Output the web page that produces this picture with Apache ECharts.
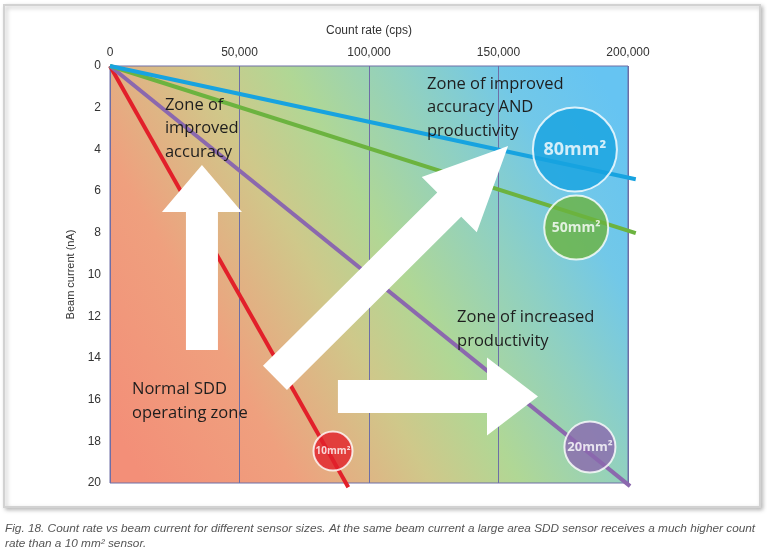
<!DOCTYPE html>
<html>
<head>
<meta charset="utf-8">
<script src="https://cdn.jsdelivr.net/npm/echarts@6/dist/echarts.min.js"></script>
<style>
html,body{margin:0;padding:0;background:#fff;}
#c{width:767px;height:551px;}
</style>
</head>
<body>
<div id="c"></div>
<script>
// ---- data ----
const xTicks = [0, 50000, 100000, 150000, 200000];
const yTicks = [0, 2, 4, 6, 8, 10, 12, 14, 16, 18, 20];
const sensorNames = ['10mm²', '20mm²', '50mm²', '80mm²'];
// sensor lines [startX, startY, endX, endY] in [count rate, beam current]
const line10 = [0, 0, 92000, 20.2];
const line20 = [0, 0, 200800, 20.15];
const line50 = [0, 0, 203000, 8.02];
const line80 = [0, 0, 203000, 5.43];
// badge (circle) centres [count rate, beam current]
const badge10 = [86100, 18.47];
const badge20 = [185300, 18.27];
const badge50 = [180000, 7.75];
const badge80 = [179500, 4.0];
// arrows [tailX, tailY, tipX, tipY]
const arrowUp = [35500, 13.62, 35500, 4.75];
const arrowDiag = [63700, 14.96, 153700, 3.84];
const arrowRight = [88000, 15.85, 165250, 15.85];
// zone texts and their anchor (top-left) [count rate, beam current]
const zoneTexts = [
  'Zone of\nimproved\naccuracy',
  'Zone of improved\naccuracy AND\nproductivity',
  'Zone of increased\nproductivity',
  'Normal SDD\noperating zone'
];
const zoneAnchors = [[21200, 1.3], [122400, 0.3], [134000, 11.5], [8500, 14.95]];

// ---- styles ----
const colors = {red: '#e2202a', purple: '#8b68ae', green: '#6cb33f', blue: '#17a3e0'};
const lineColors = [colors.red, colors.purple, colors.green, colors.blue];
const badgeSizes = [39, 51, 64, 84];
const badgeFonts = [10, 13, 14, 18];
const arrowGeom = [
  {sw: 16, hw: 40, hl: 47},
  {sw: 17, hw: 39, hl: 83},
  {sw: 16.5, hw: 39, hl: 51}
];

const chart = echarts.init(document.getElementById('c'));

const badges = [badge10, badge20, badge50, badge80];

const bg = new echarts.graphic.LinearGradient(0, 0.85, 1, 0.15, [
  {offset: 0, color: '#f38f78'},
  {offset: 0.22, color: '#efa07e'},
  {offset: 0.42, color: '#cfc88a'},
  {offset: 0.55, color: '#b0d795'},
  {offset: 0.72, color: '#8fd0c2'},
  {offset: 0.86, color: '#72c8e8'},
  {offset: 1, color: '#66c4f2'}
]);

const option = {
  animation: false,
  grid: {left: 110, top: 66, right: 139, bottom: 68, show: true,
    backgroundColor: bg, borderColor: '#6e6ea6', borderWidth: 1},
  xAxis: {
    type: 'value', position: 'top', min: 0, max: 200000, interval: 50000,
    name: 'Count rate (cps)', nameLocation: 'middle', nameGap: 29,
    nameTextStyle: {color: '#333', fontSize: 12, fontFamily: 'Liberation Sans'},
    axisLine: {show: false}, axisTick: {show: false},
    axisLabel: {color: '#333', fontSize: 12, margin: 7, fontFamily: 'Liberation Sans',
      formatter: v => xTicks.includes(v) ? v.toLocaleString('en-US') : ''},
    splitLine: {show: true, lineStyle: {color: '#6e6ea6', width: 1}}
  },
  yAxis: {
    type: 'value', inverse: true, min: 0, max: 20, interval: 2,
    name: 'Beam current (nA)', nameLocation: 'middle', nameGap: 31, nameRotate: 90,
    nameTextStyle: {color: '#333', fontSize: 11, fontFamily: 'Liberation Sans'},
    axisLine: {show: false}, axisTick: {show: false},
    axisLabel: {color: '#333', fontSize: 12, margin: 9, fontFamily: 'Liberation Sans',
      formatter: v => yTicks.includes(v) ? String(v) : ''},
    splitLine: {show: false}
  },
  graphic: [
    {type: 'rect', z: -10, shape: {x: 4, y: 5, width: 756, height: 502},
      style: {fill: '#fff', stroke: '#d2d2d2', lineWidth: 2,
        shadowBlur: 4, shadowOffsetX: 2, shadowOffsetY: 2, shadowColor: 'rgba(0,0,0,0.25)'}},
    {type: 'text', left: 5, top: 521, z: 10,
      style: {text: 'Fig. 18. Count rate vs beam current for different sensor sizes. At the same beam current a large area SDD sensor receives a much higher count\nrate than a 10 mm² sensor.',
        fill: '#555', font: 'italic 11.8px "Liberation Sans"', lineHeight: 15}}
  ],
  series: [
    {
      type: 'custom', z: 2, clip: false, silent: true,
      data: [line10, line20, line50, line80],
      encode: {x: [0, 2], y: [1, 3]},
      renderItem: function (params, api) {
        const p1 = api.coord([api.value(0), api.value(1)]);
        const p2 = api.coord([api.value(2), api.value(3)]);
        return {type: 'line', shape: {x1: p1[0], y1: p1[1], x2: p2[0], y2: p2[1]},
          style: {stroke: lineColors[params.dataIndex], lineWidth: 4}};
      }
    },
    {
      type: 'custom', z: 3, clip: false, silent: true,
      data: [arrowUp, arrowDiag, arrowRight],
      encode: {x: [0, 2], y: [1, 3]},
      renderItem: function (params, api) {
        const g = arrowGeom[params.dataIndex];
        const p1 = api.coord([api.value(0), api.value(1)]);
        const p2 = api.coord([api.value(2), api.value(3)]);
        const dx = p2[0] - p1[0], dy = p2[1] - p1[1];
        const L = Math.sqrt(dx * dx + dy * dy);
        const ux = dx / L, uy = dy / L, nx = -uy, ny = ux;
        const bx = p2[0] - ux * g.hl, by = p2[1] - uy * g.hl;
        const pts = [
          [p1[0] + nx * g.sw, p1[1] + ny * g.sw],
          [bx + nx * g.sw, by + ny * g.sw],
          [bx + nx * g.hw, by + ny * g.hw],
          [p2[0], p2[1]],
          [bx - nx * g.hw, by - ny * g.hw],
          [bx - nx * g.sw, by - ny * g.sw],
          [p1[0] - nx * g.sw, p1[1] - ny * g.sw]
        ];
        return {type: 'polygon', shape: {points: pts}, style: {fill: '#ffffff'}};
      }
    },
    {
      type: 'scatter', z: 4, silent: true,
      data: badges.map((b, i) => ({
        value: b, symbolSize: badgeSizes[i],
        itemStyle: {color: lineColors[i], borderColor: '#ffffff', borderWidth: 2},
        label: {show: true, position: 'inside', formatter: sensorNames[i],
          color: '#fff', fontWeight: 'bold', fontSize: badgeFonts[i], fontFamily: 'Open Sans'}
      }))
    },
    {
      type: 'custom', z: 5, clip: false, silent: true,
      data: zoneAnchors,
      encode: {x: 0, y: 1},
      renderItem: function (params, api) {
        const p = api.coord([api.value(0), api.value(1)]);
        return {type: 'text', x: p[0], y: p[1],
          style: {text: zoneTexts[params.dataIndex], fill: '#1e1e1e',
            font: '16.5px "Open Sans"', lineHeight: 23.5, align: 'left', verticalAlign: 'top'}};
      }
    }
  ]
};
chart.setOption(option);
</script>
</body>
</html>
